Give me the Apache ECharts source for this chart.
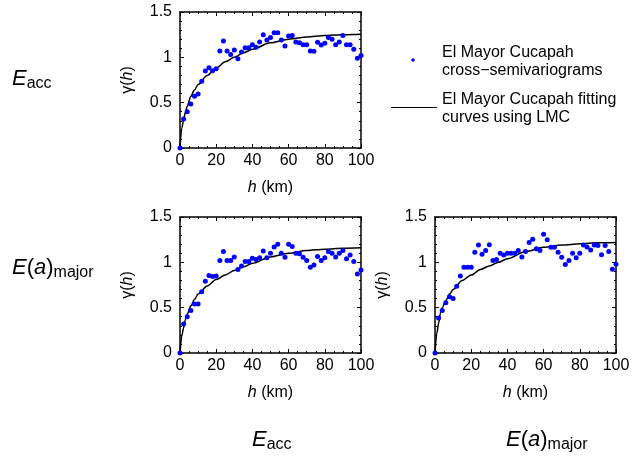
<!DOCTYPE html>
<html>
<head>
<meta charset="utf-8">
<script src="https://cdn.jsdelivr.net/npm/echarts@6/dist/echarts.min.js"></script>
<style>
  html, body { margin: 0; padding: 0; background: #fff; }
  #chart { width: 643px; height: 457px; }
</style>
</head>
<body>
<div id="chart"></div>
<script>
// lag distances (km) of the empirical points
var hs = [0, 2, 4, 6, 8, 10, 12, 14, 16, 18, 20, 22, 24, 26, 28, 30, 32, 34, 36, 38, 40,
          42, 44, 46, 48, 50, 52, 54, 56, 58, 60, 62, 64, 66, 68, 70, 72, 74, 76, 78, 80,
          82, 84, 86, 88, 90, 92, 94, 96, 98, 100];

// cross-semivariograms
var accAcc = [0, 0.32, 0.40, 0.485, 0.57, 0.595, 0.735, 0.85, 0.886, 0.853, 0.875, 1.07, 1.18, 1.07, 1.03, 1.08,
              0.985, 1.06, 1.107, 1.107, 1.14, 1.11, 1.17, 1.25, 1.19, 1.22, 1.27, 1.27, 1.19, 1.125, 1.235,
              1.24, 1.17, 1.16, 1.14, 1.14, 1.07, 1.066, 1.165, 1.136, 1.154, 1.22, 1.20, 1.14, 1.17, 1.24,
              1.14, 1.14, 1.09, 0.99, 1.02];
var accMajor = [0, 0.32, 0.40, 0.47, 0.54, 0.54, 0.675, 0.79, 0.855, 0.845, 0.85, 1.02, 1.12, 1.02, 1.02, 1.06,
                0.92, 0.96, 1.01, 1.01, 1.045, 1.03, 1.05, 1.125, 1.05, 1.10, 1.17, 1.20, 1.10, 1.055, 1.20,
                1.175, 1.10, 1.095, 1.055, 1.02, 0.945, 0.97, 1.065, 1.02, 1.05, 1.12, 1.10, 1.06, 1.10, 1.13,
                1.04, 1.08, 1.01, 0.87, 0.915];
var majorMajor = [0, 0.385, 0.47, 0.555, 0.62, 0.60, 0.735, 0.85, 0.945, 0.945, 0.945, 1.11, 1.19, 1.09, 1.13, 1.195,
                  1.02, 1.03, 1.10, 1.08, 1.10, 1.10, 1.10, 1.13, 1.06, 1.12, 1.22, 1.255, 1.15, 1.13, 1.31,
                  1.25, 1.165, 1.165, 1.11, 1.055, 0.975, 1.02, 1.10, 1.05, 1.10, 1.19, 1.17, 1.135, 1.19, 1.185,
                  1.085, 1.185, 1.12, 0.925, 0.98];

// LMC fitting curves
var hFit = [0, 1, 2, 3, 4, 6, 8, 10, 15, 20, 25, 30, 35, 40, 50, 60, 70, 80, 90, 100];
var fitAccAcc = [0, 0.22, 0.31, 0.40, 0.46, 0.57, 0.64, 0.70, 0.80, 0.88, 0.95, 1.00, 1.05, 1.09, 1.16, 1.20, 1.225, 1.24, 1.25, 1.255];
var fitAccMajor = [0, 0.19, 0.28, 0.37, 0.43, 0.52, 0.59, 0.65, 0.74, 0.81, 0.86, 0.91, 0.95, 0.99, 1.06, 1.10, 1.13, 1.145, 1.155, 1.16];
var fitMajorMajor = [0, 0.22, 0.33, 0.44, 0.50, 0.58, 0.65, 0.70, 0.80, 0.86, 0.92, 0.96, 1.00, 1.04, 1.12, 1.165, 1.19, 1.205, 1.215, 1.22];

var yTicks = [0, 0.5, 1, 1.5];
var xTicks = [0, 20, 40, 60, 80, 100];
var legendNames = ['El Mayor Cucapah\ncross\u2212semivariograms', 'El Mayor Cucapah fitting\ncurves using LMC'];

var font = '"Liberation Sans", Arial, Helvetica, sans-serif';
var chart = echarts.init(document.getElementById('chart'), null, {renderer: 'canvas'});

var points = [accAcc, accMajor, majorMajor];
var fits = [fitAccAcc, fitAccMajor, fitMajorMajor];
var grids = [
    {left: 180, top: 12, width: 181, height: 136},
    {left: 180, top: 217, width: 181, height: 136},
    {left: 435, top: 217, width: 181, height: 136}
];

function pairs(xs, ys) {
    var out = [];
    for (var i = 0; i < xs.length; i++) out.push([xs[i], ys[i]]);
    return out;
}

var lineStyle = {color: '#000', width: 1.5};
var tickStyle = {color: '#000', width: 1};
var xAxes = [], yAxes = [], series = [];
for (var k = 0; k < 3; k++) {
    // bottom / left axes with labels
    xAxes.push({
        gridIndex: k, type: 'value', min: xTicks[0], max: xTicks[xTicks.length - 1], interval: 20,
        name: '{i|h} (km)', nameLocation: 'middle', nameGap: 32,
        nameTextStyle: {color: '#000', fontSize: 16, fontFamily: font, rich: {i: {fontStyle: 'italic', fontSize: 16, fontFamily: font}}},
        axisLine: {onZero: false, lineStyle: lineStyle},
        axisTick: {inside: true, length: 4, lineStyle: tickStyle},
        minorTick: {show: true, splitNumber: 4, length: 2, lineStyle: tickStyle},
        splitLine: {show: false},
        axisLabel: {color: '#000', fontSize: 16, fontFamily: font, margin: 5}
    });
    yAxes.push({
        gridIndex: k, type: 'value', min: yTicks[0], max: yTicks[yTicks.length - 1], interval: 0.5,
        name: '\u03b3({i|h})', nameLocation: 'middle', nameGap: 44, nameRotate: 90,
        nameTextStyle: {color: '#000', fontSize: 16, fontFamily: font, rich: {i: {fontStyle: 'italic', fontSize: 16, fontFamily: font}}},
        axisLine: {onZero: false, lineStyle: lineStyle},
        axisTick: {inside: true, length: 4, lineStyle: tickStyle},
        minorTick: {show: true, splitNumber: 5, length: 2, lineStyle: tickStyle},
        splitLine: {show: false},
        axisLabel: {color: '#000', fontSize: 16, fontFamily: font, margin: 8}
    });
}
for (var k = 0; k < 3; k++) {
    // mirrored top / right box axes
    xAxes.push({
        gridIndex: k, type: 'value', position: 'top', min: 0, max: 100, interval: 20,
        axisLine: {onZero: false, lineStyle: lineStyle},
        axisTick: {inside: true, length: 4, lineStyle: tickStyle},
        minorTick: {show: true, splitNumber: 4, length: 2, lineStyle: tickStyle},
        splitLine: {show: false}, axisLabel: {show: false}
    });
    yAxes.push({
        gridIndex: k, type: 'value', position: 'right', min: 0, max: 1.5, interval: 0.5,
        axisLine: {onZero: false, lineStyle: lineStyle},
        axisTick: {inside: true, length: 4, lineStyle: tickStyle},
        minorTick: {show: true, splitNumber: 5, length: 2, lineStyle: tickStyle},
        splitLine: {show: false}, axisLabel: {show: false}
    });
}
for (var k = 0; k < 3; k++) {
    series.push({
        name: legendNames[1], type: 'line', xAxisIndex: k, yAxisIndex: k,
        data: pairs(hFit, fits[k]), showSymbol: false, smooth: 0.3, smoothMonotone: 'x',
        lineStyle: {color: '#000', width: 1.5}, z: 2
    });
    series.push({
        name: legendNames[0], type: 'scatter', xAxisIndex: k, yAxisIndex: k,
        data: pairs(hs, points[k]), symbolSize: 5,
        itemStyle: {color: '#0000ff', opacity: 1}, z: 3
    });
}

function rowLabel(x, y, main, sub) {
    // italic letters with upright brackets, then a smaller subscript
    return {
        type: 'text', x: x, y: y, silent: true,
        style: {
            text: main + '{s|' + sub + '}', fill: '#000', fontSize: 22, fontFamily: font, verticalAlign: 'middle',
            rich: {
                it: {fontStyle: 'italic', fontSize: 22, fontFamily: font},
                up: {fontSize: 22, fontFamily: font},
                s: {fontSize: 16, fontFamily: font, padding: [10, 0, 0, 0]}
            }
        }
    };
}

var option = {
    animation: false,
    backgroundColor: '#fff',
    grid: grids,
    xAxis: xAxes,
    yAxis: yAxes,
    series: series,
    graphic: [
        rowLabel(12, 79, '{it|E}', 'acc'),
        rowLabel(12, 268, '{it|E}{up|(}{it|a}{up|)}', 'major'),
        rowLabel(252, 440, '{it|E}', 'acc'),
        rowLabel(506, 440, '{it|E}{up|(}{it|a}{up|)}', 'major'),
        // legend
        {type: 'circle', silent: true, shape: {cx: 413, cy: 60, r: 1.8}, style: {fill: '#0000ff'}},
        {type: 'line', silent: true, shape: {x1: 391, y1: 107.5, x2: 437, y2: 107.5}, style: {stroke: '#000', lineWidth: 1.2}},
        {type: 'text', x: 442, y: 44, silent: true,
         style: {text: legendNames[0], fill: '#000', fontSize: 16, fontFamily: font, lineHeight: 18, verticalAlign: 'top'}},
        {type: 'text', x: 442, y: 91, silent: true,
         style: {text: legendNames[1], fill: '#000', fontSize: 16, fontFamily: font, lineHeight: 18, verticalAlign: 'top'}}
    ]
};
chart.setOption(option);
</script>
</body>
</html>
